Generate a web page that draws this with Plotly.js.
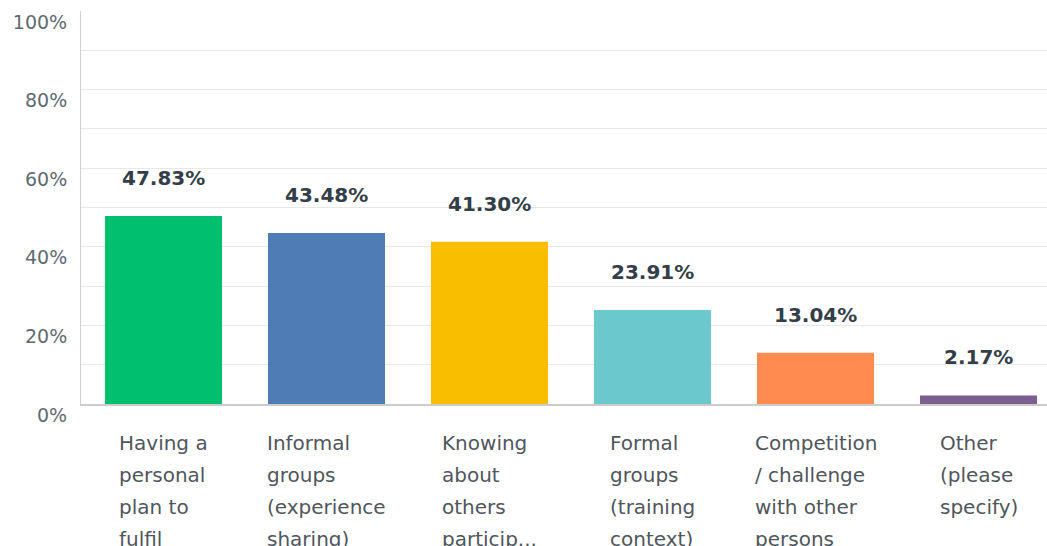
<!DOCTYPE html>
<html>
<head>
<meta charset="utf-8">
<script src="https://cdn.plot.ly/plotly-3.0.1.min.js"></script>
<style>html,body{margin:0;padding:0;background:#fff;}#chart{width:1047px;height:546px;}</style>
</head>
<body>
<div id="chart"></div>
<script>
const categories = [
  "Having a personal plan to fulfil",
  "Informal groups (experience sharing)",
  "Knowing about others particip...",
  "Formal groups (training context)",
  "Competition / challenge with other persons",
  "Other (please specify)"
];
const categoryLines = [
  ["Having a", "personal", "plan to", "fulfil"],
  ["Informal", "groups", "(experience", "sharing)"],
  ["Knowing", "about", "others", "particip..."],
  ["Formal", "groups", "(training", "context)"],
  ["Competition", "/ challenge", "with other", "persons"],
  ["Other", "(please", "specify)"]
];
const values = [47.83, 43.48, 41.30, 23.91, 13.04, 2.17];
const colors = ["#00BF6F", "#507CB6", "#F9BE00", "#6BC8CD", "#FF8B4F", "#7D5E90"];

const trace = {
  type: "bar",
  x: categories,
  y: values,
  marker: {color: colors},
  hoverinfo: "none"
};

const annotations = [];
values.forEach((v, i) => {
  annotations.push({
    x: categories[i], y: v, xref: "x", yref: "y",
    text: v.toFixed(2) + "%",
    showarrow: false, xanchor: "center", yanchor: "middle", yshift: 38,
    font: {family: "DejaVu Sans", size: 20, color: "#333E48", weight: "bold"}
  });
  annotations.push({
    x: categories[i], y: 0, xref: "x", yref: "paper",
    text: categoryLines[i].map(s => '<span style="font-size:20px">' + s + '</span>').join("<br>"),
    showarrow: false, xanchor: "center", yanchor: "top", yshift: -25, align: "left",
    font: {family: "DejaVu Sans", size: 24.6, color: "#4F565C"}
  });
});

const layout = {
  width: 1047, height: 546,
  margin: {l: 81, r: 0, t: 11, b: 142, pad: 0},
  paper_bgcolor: "#ffffff", plot_bgcolor: "#ffffff",
  showlegend: false,
  bargap: 0.282,
  xaxis: {
    type: "category",
    range: [-0.506, 5.42],
    showticklabels: false,
    showgrid: false,
    showline: true, linecolor: "#cccccc", linewidth: 2,
    zeroline: false, fixedrange: true
  },
  yaxis: {
    range: [0, 100],
    dtick: 20, tick0: 0,
    ticksuffix: "%",
    showline: true, linecolor: "#d0d0d0", linewidth: 1,
    gridcolor: "#e8e8e8", gridwidth: 1,
    minor: {dtick: 10, showgrid: true, gridcolor: "#e8e8e8", gridwidth: 1},
    zeroline: false,
    ticklabelshift: 11,
    ticklabelstandoff: 9,
    tickfont: {family: "DejaVu Sans", size: 19, color: "#5F6A72"},
    fixedrange: true
  },
  annotations: annotations
};

Plotly.newPlot("chart", [trace], layout, {displayModeBar: false, staticPlot: true});
</script>
</body>
</html>
